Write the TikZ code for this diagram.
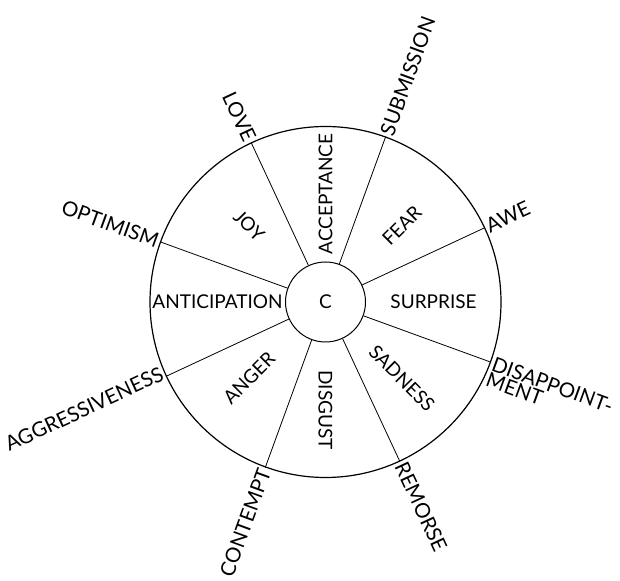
\documentclass[tikz,border=0pt]{standalone}
\usepackage{fontspec}
\setmainfont{Lato}
\begin{document}
\begin{tikzpicture}[x=1pt,y=1pt,
  font=\fontsize{19}{16}\selectfont,
  wheel/.style={circle, draw, line width=1.2pt, minimum size=351pt, inner sep=0pt},
  hub/.style={circle, draw, line width=1pt, minimum size=80pt, inner sep=0pt},
  spoke/.style={line width=0.8pt},
  inlab/.style={inner sep=0pt},
  outlab/.style={inner sep=2pt, align=left, font=\fontsize{20.5}{16.5}\selectfont}]
\useasboundingbox (0,0) rectangle (620,580);
\coordinate (O) at (325.5,278);
\node[wheel] (w) at (O) {};
\node[hub] (c) at (O) {C};
\foreach \a in {25,70,115,160,205,250,295,340}
  \draw[spoke] (c.\a) -- (w.\a);
% inner labels
\node[inlab, rotate=0]   (surprise)     at ([shift={(0:108)}]O)   {SURPRISE};
\node[inlab, rotate=45]  (fear)         at ([shift={(45:108)}]O)  {FEAR};
\node[inlab, rotate=90]  (acceptance)   at ([shift={(90:108)}]O)  {ACCEPTANCE};
\node[inlab, rotate=-45] (joy)          at ([shift={(135:108)}]O) {JOY};
\node[inlab, rotate=0]   (anticipation) at ([shift={(180:108)}]O) {ANTICIPATION};
\node[inlab, rotate=45]  (anger)        at ([shift={(225:108)}]O) {ANGER};
\node[inlab, rotate=-90] (disgust)      at ([shift={(270:108)}]O) {DISGUST};
\node[inlab, rotate=-45] (sadness)      at ([shift={(315:108)}]O) {SADNESS};
% outer labels
\node[outlab, anchor=east, rotate=-65] (love)       at ([shift={(115:176)}]O) {LOVE};
\node[outlab, anchor=west, rotate=70]  (submission) at ([shift={(70:176)}]O)  {SUBMISSION};
\node[outlab, anchor=west, rotate=25]  (awe)        at ([shift={(25:176)}]O)  {AWE};
\node[outlab, anchor=west, rotate=-20] (disap)      at ([shift={(-20:176)},shift={(-110:8.5)}]O) {DISAPPOINT-\\MENT};
\node[outlab, anchor=west, rotate=-65] (remorse)    at ([shift={(-65:176)}]O) {REMORSE};
\node[outlab, anchor=east, rotate=70]  (contempt)   at ([shift={(-110:176)}]O) {CONTEMPT};
\node[outlab, anchor=east, rotate=25]  (aggr)       at ([shift={(-155:176)},shift={(115:5)}]O) {AGGRESSIVENESS};
\node[outlab, anchor=east, rotate=-20] (optimism)   at ([shift={(160:176)}]O) {OPTIMISM};
\end{tikzpicture}
\end{document}
